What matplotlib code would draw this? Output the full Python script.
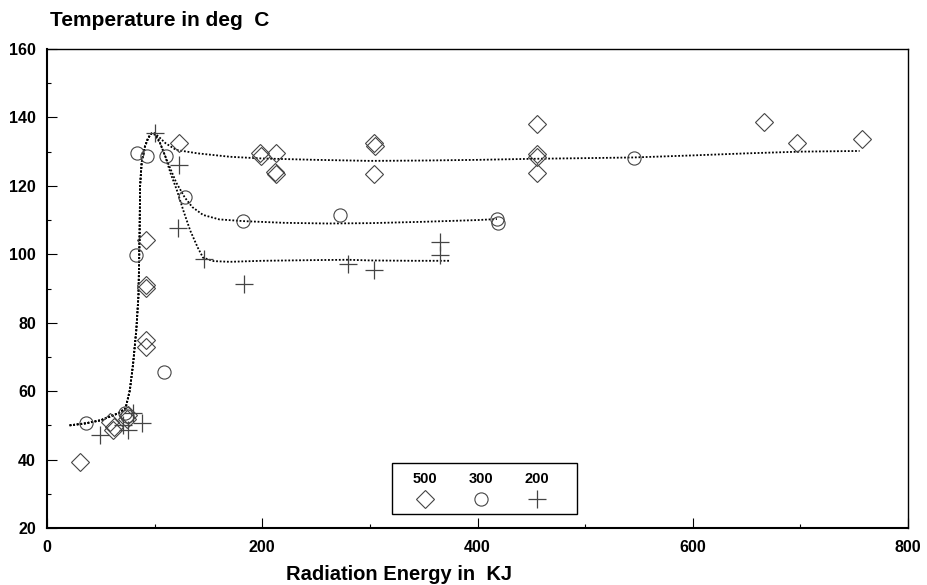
import matplotlib
matplotlib.use("Agg")
import matplotlib.pyplot as plt
from matplotlib.patches import Rectangle
import numpy as np

plt.rcParams['font.family'] = ['Liberation Sans', 'DejaVu Sans']
plt.rcParams['font.weight'] = 'bold'

# ---- data ----
series_labels = ["500", "300", "200"]

x500 = [31, 58.6, 61.5, 62, 74, 75.6, 92, 92, 92, 92, 92, 123, 198, 199, 213, 212, 213,
        304, 305, 304, 455, 455, 455, 455, 666, 697, 757]
y500 = [39.2, 51, 48.5, 49.5, 52, 53, 104.2, 90.2, 91, 75, 73, 132.5, 129.5, 128.7, 129.5,
        124.1, 123.4, 132.4, 131.6, 123.4, 138, 129.2, 128.5, 123.7, 138.7, 132.4, 133.6]

x300 = [36.3, 72.6, 74, 82.8, 83.4, 92.7, 110.7, 108.8, 128.4, 182, 272.6, 418.3, 418.9, 545.4]
y300 = [50.6, 53.5, 52.7, 99.8, 129.7, 128.7, 128.7, 65.6, 116.6, 109.7, 111.5, 110.2, 109.2, 128.2]

x200 = [49.3, 71, 75.6, 80.3, 88, 100.5, 122.8, 122, 146, 182.6, 279.4, 303.5, 365, 365]
y200 = [47.1, 50, 48.6, 53.5, 50.6, 135.4, 126.1, 107.6, 98.6, 91.2, 97.3, 95.4, 103.7, 99.8]

# fitted curves
rise_x = [21, 36, 50, 66, 73, 77, 80, 83, 85, 86, 86.5, 88, 91, 94, 97]
rise_y = [50, 50.6, 51.5, 53.5, 55, 60.3, 68, 78, 88, 105, 120, 127, 131.5, 134, 135.3]

fit500_x = [100, 105, 110, 120, 140, 170, 200, 250, 300, 350, 400, 450, 500, 545, 600, 650, 700, 755]
fit500_y = [135.4, 134, 132.5, 130.5, 129.5, 128.5, 128, 127.6, 127.3, 127.4, 127.6, 127.9,
            128.1, 128.3, 128.9, 129.5, 130, 130.2]

fit300_x = [100, 105, 112, 120, 128, 135, 145, 160, 182, 220, 260, 300, 350, 400, 418]
fit300_y = [135, 132.5, 127, 121, 116.6, 113.8, 111.5, 110.2, 109.7, 109.2, 109, 109.1, 109.5, 110, 110.3]

fit200_x = [100, 104, 110, 115, 120.6, 127, 133, 140, 145, 155, 170, 200, 250, 280, 300, 340, 375]
fit200_y = [135.3, 133.4, 128.5, 123.5, 118.8, 112.5, 107, 102, 99, 98, 97.8, 98.1, 98.3, 98.4,
            98.2, 98.1, 98.1]

x_ticks = [0, 200, 400, 600, 800]
y_ticks = [20, 40, 60, 80, 100, 120, 140, 160]

# ---- figure ----
fig = plt.figure(figsize=(9.28, 5.85), dpi=100)
ax = fig.add_axes([47/928, 1-528/585, 861/928, 479/585])

line_kw = dict(color='black', lw=1.3, linestyle=(0, (1, 1)))
for fx, fy in [(fit500_x, fit500_y), (fit300_x, fit300_y), (fit200_x, fit200_y)]:
    ax.plot(rise_x + fx, rise_y + fy, **line_kw)

mk_col = '#444444'
ax.plot(x500, y500, linestyle='none', marker='D', ms=9.5, mfc='none', mec=mk_col, mew=0.8)
ax.plot(x300, y300, linestyle='none', marker='o', ms=9.5, mfc='none', mec=mk_col, mew=0.8)
ax.plot(x200, y200, linestyle='none', marker='+', ms=13, mec=mk_col, mew=0.9)

ax.set_xlim(0, 800)
ax.set_ylim(20, 160)
ax.set_xticks(x_ticks)
ax.set_yticks(y_ticks)
ax.set_xticks([100, 300, 500, 700], minor=True)
ax.set_yticks([30, 50, 70, 90, 110, 130, 150], minor=True)
ax.tick_params(which='both', direction='in', labelsize=11.5, width=0.8)
ax.tick_params(which='major', length=7)
ax.tick_params(which='minor', length=3)
ax.tick_params(axis='y', pad=8)
ax.tick_params(axis='x', pad=9)
for lab in ax.get_xticklabels() + ax.get_yticklabels():
    lab.set_fontweight('bold')

ax.spines['left'].set_linewidth(1.5)
ax.spines['bottom'].set_linewidth(1.5)
ax.spines['top'].set_linewidth(1.0)
ax.spines['right'].set_linewidth(1.0)

fig.text(50/928, 1-21/585, 'Temperature in deg  C', ha='left', va='center',
         fontsize=15, fontweight='bold')
fig.text(399/928, 1-575/585, 'Radiation Energy in  KJ', ha='center', va='center',
         fontsize=14.5, fontweight='bold')

# ---- legend (custom: label above marker) ----
ax.add_patch(Rectangle((0.4007, 0.0292), 0.6156-0.4007, 0.1357-0.0292,
                       transform=ax.transAxes, fill=False, edgecolor='black', lw=1.0, zorder=5))
leg_x = [0.439, 0.5037, 0.5688]
leg_markers = [dict(marker='D', ms=9.5, mfc='none', mec=mk_col, mew=0.8),
               dict(marker='o', ms=9.5, mfc='none', mec=mk_col, mew=0.8),
               dict(marker='+', ms=13, mec=mk_col, mew=0.9)]
for lx, lab, mk in zip(leg_x, series_labels, leg_markers):
    ax.text(lx, 0.102, lab, transform=ax.transAxes, ha='center', va='center',
            fontsize=10.5, fontweight='bold', zorder=6)
    ax.plot([lx], [0.060], transform=ax.transAxes, linestyle='none', zorder=6, **mk)

fig.savefig('out.png', dpi=100)
